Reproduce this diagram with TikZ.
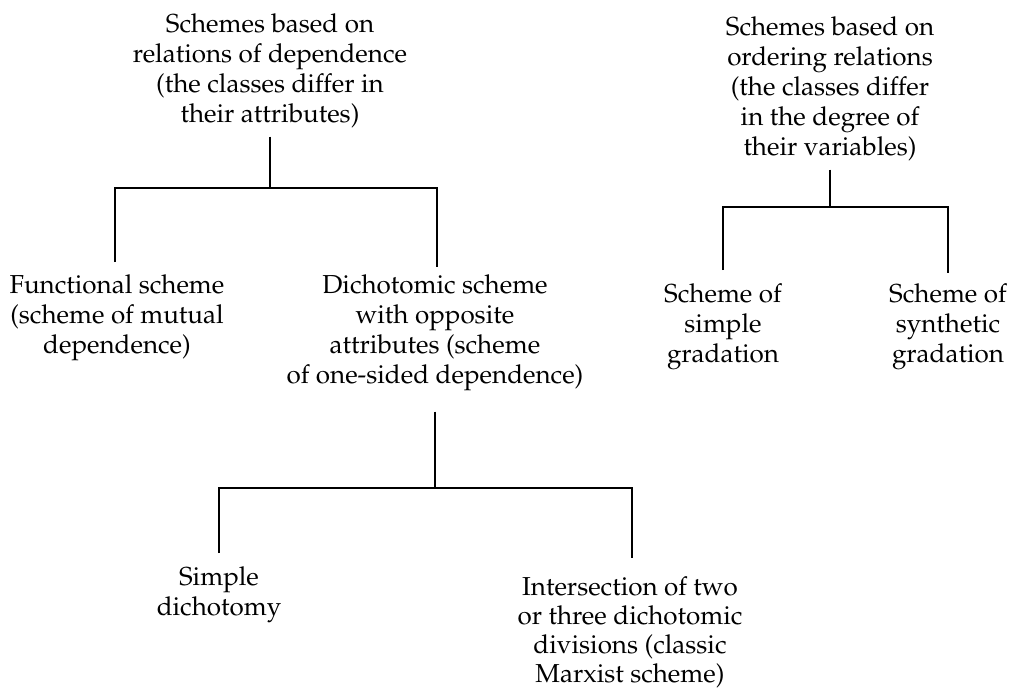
\documentclass[tikz,border=0pt]{standalone}
\usepackage[T1]{fontenc}
\usepackage{mathpazo}
\usepackage{tikz}
\tikzset{
    skema/.style={
           anchor=north,
           inner sep=0pt,
           align=center,
           font=\fontsize{26}{30}\selectfont},
    tæt/.style={
           font=\fontsize{26}{29}\selectfont},
    gren/.style={
           line width=1.6pt}
}

\begin{document}
\begin{tikzpicture}[x=1pt, y=-1pt]
        \useasboundingbox (0,0) rectangle (1020,691);
        \node[skema] (afh) at (270,13) {Schemes based on\\ relations of dependence\\ (the classes differ in\\ their attributes)};
        \node[skema] (func) at (117,274) {Functional scheme\\ (scheme of mutual\\ dependence)};
        \node[skema] (dich) at (435,274) {Dichotomic scheme\\ with opposite\\ attributes (scheme\\ of one-sided dependence)};
        \node[skema] (simp) at (219,566) {Simple\\ dichotomy};
        \node[skema, tæt] (inter) at (630,576) {Intersection of two\\ or three dichotomic\\ divisions (classic\\ Marxist scheme)};
        \node[skema] (ord) at (830,16) {Schemes based on\\ ordering relations\\ (the classes differ\\ in the degree of\\ their variables)};
        \node[skema] (enkel) at (723,283) {Scheme of\\ simple\\ gradation};
        \node[skema] (synt) at (948,283) {Scheme of\\ synthetic\\ gradation};

        \coordinate (k1) at (270,188);
        \coordinate (k2) at (435,488);
        \coordinate (k3) at (830,207);

        \draw[gren] ([yshift=-9pt]afh.south) -- (k1);
        \draw[gren] ([xshift=-2pt, yshift=12pt]func.north) |- (k1) -| ([xshift=2pt, yshift=7pt]dich.north);
        \draw[gren] ([yshift=-21pt]dich.south) -- (k2);
        \draw[gren] ([yshift=13pt]simp.north) |- (k2) -| ([xshift=2pt, yshift=18pt]inter.north);
        \draw[gren] ([yshift=-9pt]ord.south) -- (k3);
        \draw[gren] ([yshift=13pt]enkel.north) |- (k3) -| ([yshift=10pt]synt.north);
    \end{tikzpicture}
\end{document}
